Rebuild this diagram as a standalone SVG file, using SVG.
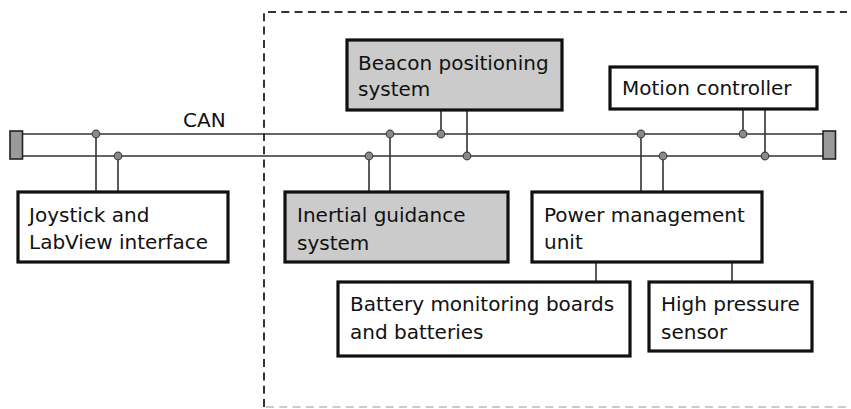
<svg xmlns="http://www.w3.org/2000/svg" width="851" height="409" viewBox="0 0 851 409">
<style>
text{font-family:"DejaVu Sans","Liberation Sans",sans-serif;font-size:20px;fill:#111}
.box{stroke:#111;stroke-width:3.2}
.w{fill:#fff}
.g{fill:#cbcbcb}
.bus{stroke:#333;stroke-width:1.6;fill:none}
.ln{stroke:#333;stroke-width:1.6;fill:none}
.dot{fill:#8a8a8a;stroke:#444;stroke-width:1.2}
.term{fill:#9a9a9a;stroke:#222;stroke-width:1.6}
</style>
<g id="boundary">
<path d="M264 407 V12 H847" fill="none" stroke="#333" stroke-width="2" stroke-dasharray="8 5.3"/>
<path d="M266 407 H851" fill="none" stroke="#bbb" stroke-width="1.6" stroke-dasharray="8 5.3"/>
</g>
<g id="connectors">
<line class="bus" x1="22" y1="134" x2="823" y2="134"/>
<line class="bus" x1="22" y1="156" x2="823" y2="156"/>
<path class="ln" d="M96 134V192M118 156V192M369 156V192M390 134V192M441 110V134M467 110V156M641 134V192M663 156V192M743 110V134M765 110V156M596 262V282M732 262V282"/>
<circle class="dot" cx="96" cy="134" r="3.8"/>
<circle class="dot" cx="118" cy="156" r="3.8"/>
<circle class="dot" cx="369" cy="156" r="3.8"/>
<circle class="dot" cx="390" cy="134" r="3.8"/>
<circle class="dot" cx="441" cy="134" r="3.8"/>
<circle class="dot" cx="467" cy="156" r="3.8"/>
<circle class="dot" cx="641" cy="134" r="3.8"/>
<circle class="dot" cx="663" cy="156" r="3.8"/>
<circle class="dot" cx="743" cy="134" r="3.8"/>
<circle class="dot" cx="765" cy="156" r="3.8"/>
<text x="183" y="127">CAN</text>
</g>
<g id="term-left"><rect class="term" x="10" y="131" width="12.5" height="28"/></g>
<g id="term-right"><rect class="term" x="823" y="131" width="12.5" height="28"/></g>
<g id="joystick">
<rect class="box w" x="18" y="192" width="210" height="70"/>
<text x="29" y="222">Joystick and</text>
<text x="29" y="249">LabView interface</text>
</g>
<g id="beacon">
<rect class="box g" x="347" y="40" width="215" height="70"/>
<text x="358" y="70">Beacon positioning</text>
<text x="358" y="96">system</text>
</g>
<g id="motion">
<rect class="box w" x="610" y="67" width="207" height="42"/>
<text x="622" y="95">Motion controller</text>
</g>
<g id="inertial">
<rect class="box g" x="285" y="192" width="223" height="70"/>
<text x="297" y="222">Inertial guidance</text>
<text x="297" y="250">system</text>
</g>
<g id="power">
<rect class="box w" x="532" y="192" width="230" height="70"/>
<text x="544" y="222">Power management</text>
<text x="544" y="249">unit</text>
</g>
<g id="battery">
<rect class="box w" x="338" y="282" width="292" height="74"/>
<text x="350" y="311">Battery monitoring boards</text>
<text x="350" y="339">and batteries</text>
</g>
<g id="pressure">
<rect class="box w" x="649" y="282" width="163" height="69"/>
<text x="661" y="311">High pressure</text>
<text x="661" y="339">sensor</text>
</g>
</svg>
